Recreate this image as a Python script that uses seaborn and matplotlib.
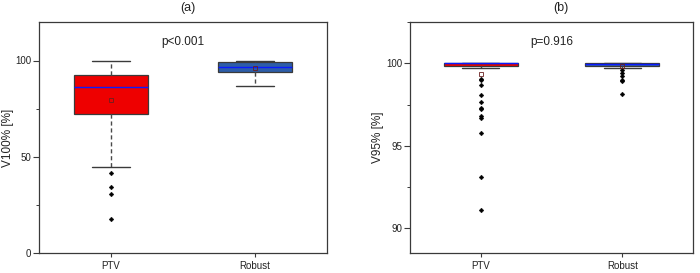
import numpy as np
import pandas as pd
import matplotlib
matplotlib.use("Agg")
import matplotlib.pyplot as plt
from matplotlib.ticker import MultipleLocator
import seaborn as sns

# ---------------- data ----------------
categories = ["PTV", "Robust"]

# panel (a): V100% [%]
ptv_v100 = [17.5, 30.8, 34.2, 41.8, 44.9,
            60.0, 66.0, 69.0, 70.5, 71.8, 72.4,
            74.0, 76.0, 78.0, 79.5, 81.0, 82.5, 83.5, 84.5, 85.5, 86.2,
            87.0, 88.0, 88.5, 89.0, 90.0, 90.5, 91.0, 91.8, 92.2, 92.6,
            93.5, 94.5, 95.5, 96.5, 97.5, 98.5, 99.0, 99.5, 99.8, 100.0]
robust_v100 = [86.6, 88.5, 90.0, 91.0, 91.8, 92.5, 93.0, 93.4, 93.7, 93.9, 94.1,
               94.3, 94.6, 94.9, 95.2, 95.5, 95.8, 96.0, 96.2, 96.4, 96.6,
               96.9, 97.2, 97.5, 97.8, 98.1, 98.4, 98.7, 98.9, 99.1, 99.3,
               99.4, 99.5, 99.6, 99.7, 99.8, 99.9, 100.0, 100.0, 100.0, 100.0]

# panel (b): V95% [%]
ptv_v95 = [91.08, 93.12, 95.78, 96.71, 96.83, 97.22, 97.28, 97.68, 98.06, 98.69,
           98.97, 99.07, 99.73, 99.78, 99.80, 99.83, 99.85,
           99.87, 99.88, 99.89, 99.90, 99.91, 99.92, 99.93, 99.94, 99.95,
           99.96, 99.97, 99.98, 99.98, 99.99, 99.99] + [100.0] * 33
robust_v95 = [98.16, 98.90, 98.99, 99.20, 99.40, 99.58, 99.70,
              99.72, 99.74, 99.76, 99.78, 99.80, 99.82, 99.83, 99.84, 99.85, 99.86,
              99.87, 99.88, 99.89, 99.90, 99.91, 99.92, 99.93, 99.93, 99.94,
              99.94, 99.95, 99.95, 99.96, 99.96, 99.97, 99.97,
              99.98, 99.98, 99.98, 99.98, 99.98, 99.99, 99.99, 99.99, 99.99,
              99.99] + [100.0] * 22

panel_titles = ["(a)", "(b)"]
y_labels = ["V100% [%]", "V95% [%]"]
p_texts = ["p<0.001", "p=0.916"]
y_ticks_a = [0, 50, 100]
y_ticks_b = [90, 95, 100]

box_colors = ["#EE0000", "#2D5DA8"]

# ---------------- style ----------------
sns.set_style("ticks")
plt.rcParams["font.family"] = ["Liberation Sans", "DejaVu Sans"]
text_col = "#222222"
frame_col = "#3a3a3a"

fig = plt.figure(figsize=(7.0, 2.73), dpi=100)
ax_a = fig.add_axes([39 / 700, 20 / 273, 288 / 700, 231 / 273])
ax_b = fig.add_axes([410 / 700, 20 / 273, 283 / 700, 231 / 273])


def make_df(v_ptv, v_rob):
    return pd.DataFrame({
        "group": [categories[0]] * len(v_ptv) + [categories[1]] * len(v_rob),
        "value": list(v_ptv) + list(v_rob),
    })


def draw(ax, df):
    sns.boxplot(
        data=df, x="group", y="value", hue="group", order=categories,
        hue_order=categories, palette=box_colors, saturation=1, legend=False,
        width=0.52, whis=1.5, linecolor=frame_col, linewidth=0.9, ax=ax,
        showmeans=True,
        meanprops=dict(marker="s", markersize=2.4, markerfacecolor="none",
                       markeredgecolor="#6a2020", markeredgewidth=0.6),
        medianprops=dict(color="#0a1aff", linewidth=1.0),
        whiskerprops=dict(color="#4a4a4a", linestyle=(0, (3, 2)), linewidth=1.0),
        capprops=dict(color="#3a3a3a", linewidth=1.0),
        flierprops=dict(marker="D", markersize=2.4, markerfacecolor="black",
                        markeredgecolor="black", markeredgewidth=0.3),
    )


draw(ax_a, make_df(ptv_v100, robust_v100))
draw(ax_b, make_df(ptv_v95, robust_v95))

ax_a.set_ylim(0, 120)
ax_a.set_yticks(y_ticks_a)
ax_a.yaxis.set_minor_locator(MultipleLocator(25))
ax_b.set_ylim(88.5, 102.5)
ax_b.set_yticks(y_ticks_b)
ax_b.yaxis.set_minor_locator(MultipleLocator(2.5))

label_x = [(14 - 39) / 288, (384 - 410) / 283]

for i, ax in enumerate([ax_a, ax_b]):
    ax.set_xlim(-0.5, 1.5)
    ax.set_xlabel("")
    ax.set_ylabel(y_labels[i], fontsize=8.5, color=text_col)
    ax.yaxis.set_label_coords(label_x[i], 0.5)
    for s in ax.spines.values():
        s.set_visible(True)
        s.set_color(frame_col)
        s.set_linewidth(0.9)
    ax.tick_params(axis="y", which="major", direction="out", length=4,
                   width=0.8, color=frame_col, labelsize=7, labelcolor=text_col,
                   pad=1.5, left=True, right=False)
    ax.tick_params(axis="y", which="minor", direction="out", length=2.2,
                   width=0.7, color=frame_col, left=True, right=False)
    ax.tick_params(axis="x", which="major", direction="out", length=3,
                   width=0.8, color=frame_col, labelsize=7, labelcolor=text_col,
                   pad=3, bottom=True, top=False)
    ax.text(0.5, 0.915, p_texts[i], transform=ax.transAxes, ha="center",
            va="center", fontsize=8.5, color=text_col)
    ax.grid(False)

fig.text(188 / 700, 1 - 7.5 / 273, panel_titles[0], ha="center", va="center",
         fontsize=9, color=text_col)
fig.text(561 / 700, 1 - 7.5 / 273, panel_titles[1], ha="center", va="center",
         fontsize=9, color=text_col)

fig.savefig("out.png", dpi=100, facecolor="white")
